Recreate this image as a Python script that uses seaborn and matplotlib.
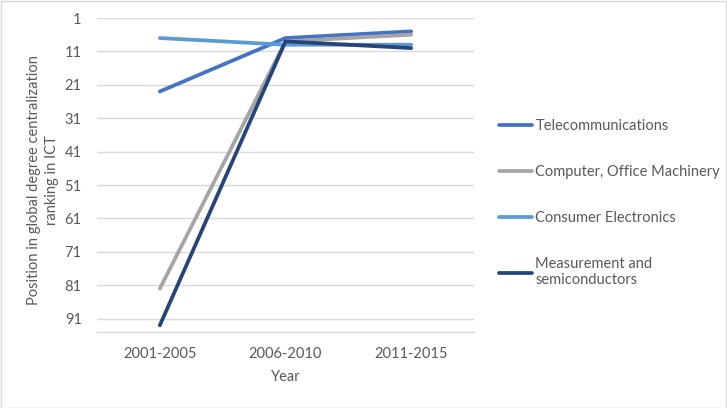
import matplotlib
matplotlib.use("Agg")
import matplotlib.pyplot as plt
import seaborn as sns
import pandas as pd
from matplotlib.patches import Rectangle

periods = ["2001-2005", "2006-2010", "2011-2015"]
telecom = [23, 7, 5]
computer = [82, 8, 6]
consumer = [7, 9, 9]
measurement = [93, 8, 10]
series_names = ["Telecommunications", "Computer, Office Machinery",
                "Consumer Electronics", "Measurement and\nsemiconductors"]
series_values = [telecom, computer, consumer, measurement]
yticks = [1, 11, 21, 31, 41, 51, 61, 71, 81, 91]
colors = ["#4472C4", "#A5A5A5", "#5B9BD5", "#264478"]

rows = []
for name, vals in zip(series_names, series_values):
    for p, v in zip(periods, vals):
        rows.append({"Year": p, "Rank": v, "Series": name})
df = pd.DataFrame(rows)

sns.set_theme(style="white")
plt.rcParams["font.family"] = ["Lato", "DejaVu Sans"]
txt = "#595959"

fig = plt.figure(figsize=(7.27, 4.08), dpi=100)
ax = fig.add_axes([97/727, 1-332/408, (474-97)/727, (332-18)/408])

sns.lineplot(data=df, x="Year", y="Rank", hue="Series", palette=colors,
             hue_order=series_names, sort=False, linewidth=2.7, ax=ax,
             legend=False)

ax.set_xlim(-0.5, 2.5)
ax.set_ylim(95, 1)
ax.set_yticks(yticks)
ax.set_yticklabels([str(t) for t in yticks])
ax.yaxis.grid(True, color="#D9D9D9", linewidth=1)
ax.set_axisbelow(True)
for s in ["top", "right", "left"]:
    ax.spines[s].set_visible(False)
ax.spines["bottom"].set_color("#D9D9D9")
ax.spines["bottom"].set_linewidth(1)
ax.tick_params(axis="both", length=0, labelsize=10.5, labelcolor=txt)
ax.tick_params(axis="y", pad=11)
ax.tick_params(axis="x", pad=11)
ax.set_xlabel("Year", fontsize=10.5, color=txt, labelpad=6)
ax.set_ylabel("")

fig.text(43/727, 1-180/408,
         "Position in global degree centralization\nranking in ICT",
         rotation=90, ha="center", va="center", fontsize=10.5, color=txt,
         multialignment="center", linespacing=1.4)

handles = [plt.Line2D([], [], color=c, linewidth=2.7) for c in colors]
leg = fig.legend(handles, series_names, loc="upper left",
                 bbox_to_anchor=(493/727, 1-113/408), frameon=False,
                 fontsize=10.5, handlelength=2.3, handletextpad=0.2,
                 labelspacing=2.2, borderaxespad=0)
for t in leg.get_texts():
    t.set_color(txt)

fig.patches.append(Rectangle((0.5/727, 0.5/408), 1-1.5/727, 1-1.5/408,
                             transform=fig.transFigure, fill=False,
                             edgecolor="#D9D9D9", linewidth=1))

fig.savefig("out.png", dpi=100)
